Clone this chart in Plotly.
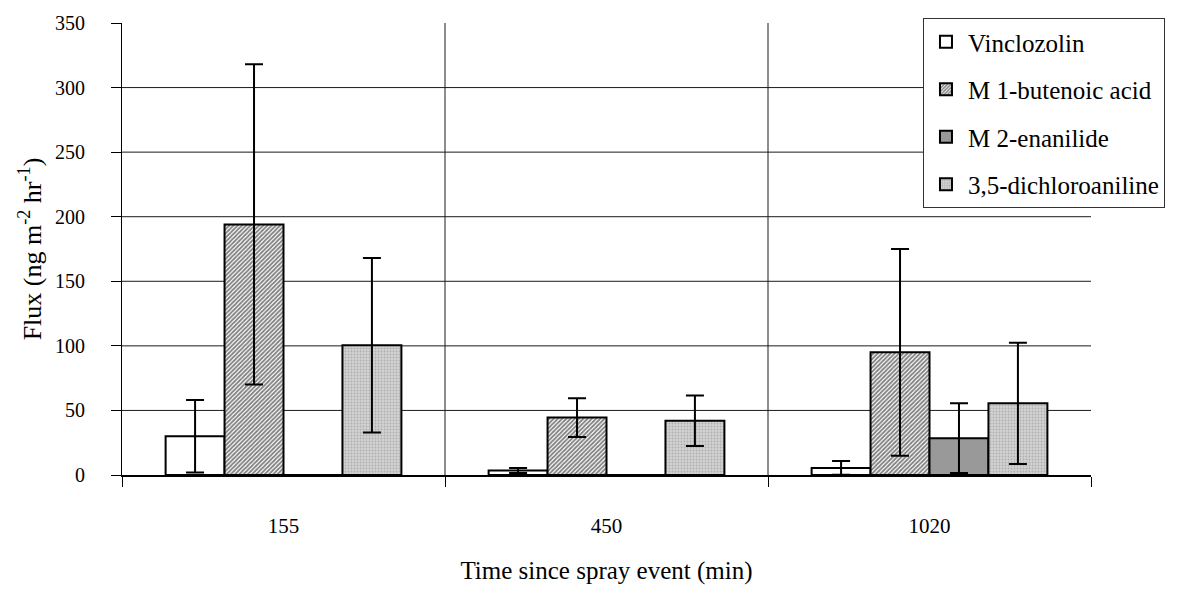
import plotly.graph_objects as go

categories = ["155", "450", "1020"]
series_names = ["Vinclozolin", "M 1-butenoic acid", "M 2-enanilide", "3,5-dichloroaniline"]

vinclozolin = [30, 3.5, 5.5]
vinclozolin_err = [28, 2, 5.3]
butenoic = [194, 44.5, 95]
butenoic_err = [124, 15, 80]
enanilide = [0, 0, 28.5]
enanilide_err = [0, 0, 27]
dichloroaniline = [100.5, 42, 55.5]
dichloroaniline_err = [67.5, 19.5, 47]

y_ticks = [0, 50, 100, 150, 200, 250, 300, 350]

FONT = "Liberation Serif"

styles = [
    dict(color="white"),
    dict(color="white", pattern=dict(shape="/", fgcolor="black", bgcolor="white", size=3, solidity=0.6)),
    dict(color="#999999"),
    dict(color="#c8c8c8", pattern=dict(shape=".", fgcolor="#8a8a8a", bgcolor="#d2d2d2", size=3, solidity=0.3)),
]

values = [vinclozolin, butenoic, enanilide, dichloroaniline]
errors = [vinclozolin_err, butenoic_err, enanilide_err, dichloroaniline_err]

fig = go.Figure()
for i, (name, v, e, st) in enumerate(zip(series_names, values, errors, styles)):
    marker = dict(line=dict(color="black", width=2))
    marker.update(st)
    fig.add_trace(go.Bar(
        name=name, x=categories, y=v,
        marker=marker,
        legendgroup=f"g{i}",
        error_y=dict(type="data", array=e, visible=True, color="black", thickness=2, width=9),
    ))

shapes = []
for t in y_ticks[1:-1]:
    shapes.append(dict(type="line", xref="paper", x0=0, x1=1, yref="y", y0=t, y1=t,
                       line=dict(color="#1a1a1a", width=1), layer="below"))
for k in range(1, len(categories)):
    shapes.append(dict(type="line", xref="x", x0=k - 0.5, x1=k - 0.5, yref="paper", y0=0, y1=1,
                       line=dict(color="#1a1a1a", width=1), layer="below"))

fig.update_layout(
    width=1188, height=592,
    margin=dict(l=122, r=97, t=21, b=112),
    paper_bgcolor="white", plot_bgcolor="white",
    font=dict(family=FONT, size=20, color="black"),
    barmode="group", bargap=0.27, bargroupgap=0,
    shapes=shapes,
    showlegend=True,
    legend=dict(
        x=0.8266, y=1.011, xanchor="left", yanchor="top",
        bgcolor="white", bordercolor="#333333", borderwidth=1,
        font=dict(family=FONT, size=25), tracegroupgap=12,
        traceorder="grouped", itemwidth=34,
    ),
    xaxis=dict(
        type="category", showgrid=False, tickson="boundaries",
        ticks="outside", ticklen=10, tickcolor="black", tickwidth=1,
        showline=True, linecolor="black", linewidth=1.5,
        ticklabelstandoff=31, tickfont=dict(size=21),
        title=dict(text="Time since spray event (min)", standoff=25, font=dict(size=25)),
    ),
    yaxis=dict(
        range=[0, 350], tickvals=y_ticks, showgrid=False, zeroline=False,
        ticks="outside", ticklen=10, tickcolor="black", tickwidth=1,
        showline=True, linecolor="black", linewidth=1,
        ticklabelstandoff=22, tickfont=dict(size=20),
        title=dict(text="Flux (ng m<sup>-2</sup> hr<sup>-1</sup>)", standoff=5, font=dict(size=26)),
    ),
)

fig.write_html("out.html", config={"displayModeBar": False},
               post_script="document.body.style.margin='0';")
